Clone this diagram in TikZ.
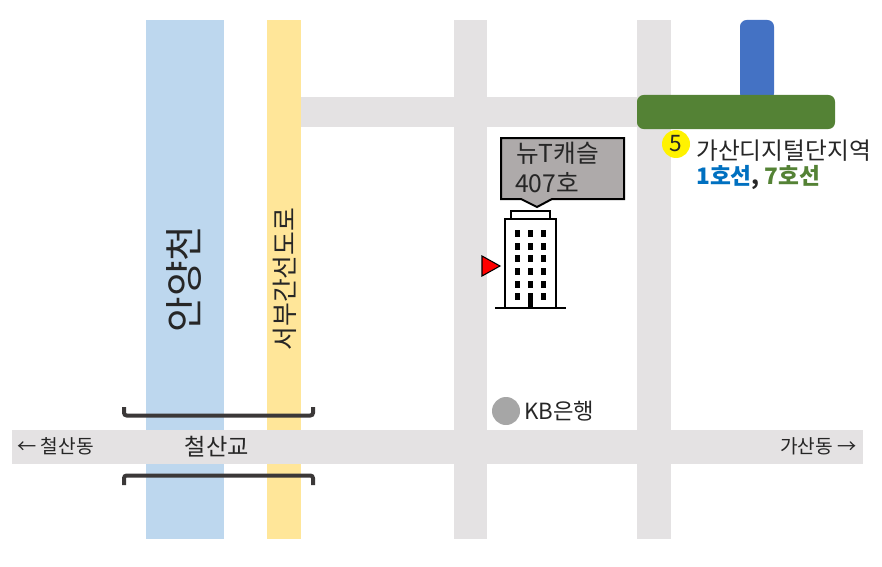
\documentclass[tikz,border=0pt]{standalone}
\usepackage{fontspec}
\setmainfont{Noto Sans CJK KR}
\usepackage{tikz}
\definecolor{roadgray}{HTML}{E4E2E3}
\definecolor{riverblue}{HTML}{BDD7EE}
\definecolor{highwayyellow}{HTML}{FFE699}
\definecolor{lineblue}{HTML}{4472C4}
\definecolor{linegreen}{HTML}{548235}
\definecolor{calloutgray}{HTML}{AEAAAA}
\definecolor{bankgray}{HTML}{A6A6A6}
\definecolor{bridgedark}{HTML}{3B3838}
\definecolor{labelblue}{HTML}{0070C0}

\begin{document}
\begin{tikzpicture}[x=0.75pt,y=-0.75pt,every node/.style={inner sep=0pt,text=black!85},
	bridgeline/.style={bridgedark,line width=3pt,rounded corners=2pt}]
	\useasboundingbox (0,0) rectangle (882,567);
	\fill[riverblue] (146,20) rectangle (224,539);
	\fill[highwayyellow] (267,20) rectangle (301,539);
	\fill[roadgray] (454,20) rectangle (487,539);
	\fill[roadgray] (637,20) rectangle (671,539);
	\fill[roadgray] (301,97) rectangle (637,127);
	\fill[roadgray] (12,430) rectangle (863,464);
	\fill[lineblue, rounded corners=5pt] (740,100) -- (740,20) -- (774,20) -- (774,100) -- cycle;
	\fill[linegreen, rounded corners=5pt] (637,95) rectangle (835,129);
	\draw[bridgeline] (124,407) -- (124,415.5) -- (313,415.5) -- (313,407);
	\draw[bridgeline] (124,485) -- (124,475.5) -- (313,475.5) -- (313,485);
	% callout
	\draw[black, line width=1.5pt, fill=calloutgray] (501,138) -- (624,138) -- (624,199) -- (552,199) -- (537,207) -- (521,199) -- (501,199) -- cycle;
	\node[anchor=west, font=\fontsize{18.5pt}{18.5pt}\selectfont] (name) at (516,153) {뉴T캐슬};
	\node[anchor=west, font=\fontsize{18.5pt}{18.5pt}\selectfont] (room) at (515,183) {407호};
	% building
	\draw[black, line width=2pt] (511,219) rectangle (550,211);
	\draw[black, line width=2pt] (505,308) -- (505,219) -- (556,219) -- (556,308);
	\draw[black, line width=2pt] (495,308) -- (566,308);
	\foreach \wx in {515,528,541} {
		\foreach \wy in {230,243,255,268,281,293} {
			\fill[black] (\wx,\wy) rectangle ++(5,7);
		}
	}
	\fill[black] (528,293) rectangle (533,308);
	\draw[black, line width=0.8pt, fill=red] (482,256) -- (500,266) -- (482,276) -- cycle;
	% station
	\fill[yellow] (676,144) circle (14);
	\node[font=\fontsize{17pt}{17pt}\selectfont] (exit) at (676,144) {5};
	\node[anchor=west, font=\fontsize{17.8pt}{17.8pt}\selectfont] (station) at (696,151) {가산디지털단지역};
	\node[anchor=west, font=\fontsize{17pt}{17pt}\selectfont\bfseries] (lines) at (696,178) {\textcolor{labelblue}{1호선}, \textcolor{linegreen}{7호선}};
	% labels
	\node[rotate=90, font=\fontsize{29pt}{29pt}\selectfont] (river) at (184,279) {안양천};
	\node[rotate=90, font=\fontsize{19.4pt}{19.4pt}\selectfont] (road) at (285,279) {서부간선도로};
	\fill[bankgray] (506,411) circle (14);
	\node[anchor=west, font=\fontsize{16.7pt}{16.7pt}\selectfont] (bank) at (524,411) {KB은행};
	\node[anchor=west, font=\fontsize{14.4pt}{14.4pt}\selectfont] (west) at (17,446) {← 철산동};
	\node[font=\fontsize{17.4pt}{17.4pt}\selectfont] (bridge) at (217,447) {철산교};
	\node[anchor=east, font=\fontsize{14.4pt}{14.4pt}\selectfont] (east) at (857,446) {가산동 →};
\end{tikzpicture}
\end{document}
